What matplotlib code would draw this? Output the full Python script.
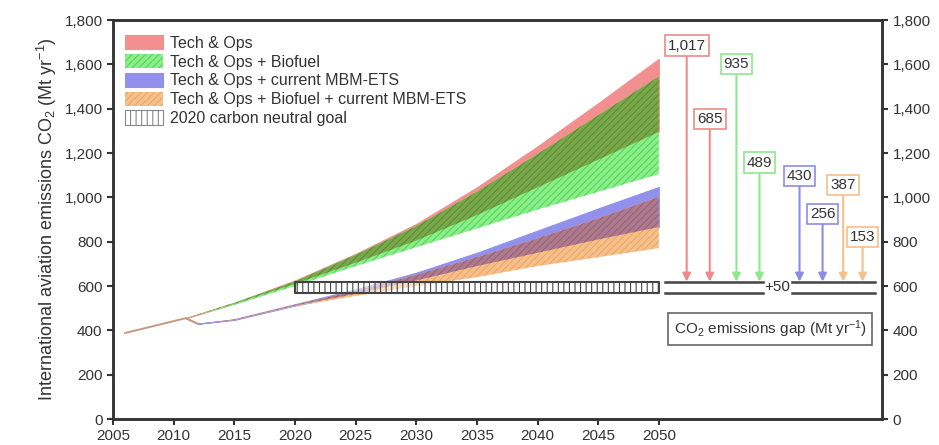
import numpy as np
import matplotlib.pyplot as plt
from matplotlib.patches import Patch

# historical emissions (Mt CO2 / yr)
years_hist = [2006, 2011]
co2_hist = [388, 455]

# scenarios without MBM
years_up = [2011, 2015, 2020, 2025, 2030, 2035, 2040, 2045, 2050]
red_hi = [455, 525, 625, 745, 880, 1045, 1230, 1425, 1625]
red_lo = [455, 520, 610, 705, 805, 920, 1045, 1170, 1295]
green_hi = [455, 523, 620, 740, 870, 1025, 1195, 1370, 1545]
green_lo = [455, 515, 600, 690, 775, 860, 945, 1025, 1105]

# scenarios with current MBM-ETS
years_mbm = [2011, 2012, 2015, 2020, 2025, 2030, 2035, 2040, 2045, 2050]
blue_hi = [455, 430, 450, 518, 585, 660, 750, 850, 950, 1047]
blue_lo = [455, 430, 447, 512, 565, 625, 690, 750, 810, 866]
orange_hi = [455, 430, 449, 515, 578, 650, 730, 815, 905, 1002]
orange_lo = [455, 430, 446, 510, 555, 600, 640, 690, 730, 771]

# 2020 carbon neutral goal
goal_years = [2020, 2050]
goal_lo, goal_hi = 570, 620

# emissions gap labels
gap_values = [1017, 685, 935, 489, 430, 256, 387, 153]
gap_colors = ['#f08a8a', '#f08a8a', '#8ee88e', '#8ee88e',
              '#8c8ce6', '#8c8ce6', '#f5c08a', '#f5c08a']
gap_x = [2052.3, 2054.2, 2056.4, 2058.3, 2061.6, 2063.5, 2065.2, 2066.8]

txt = '#333333'
plt.rcParams['font.family'] = ['Liberation Sans', 'DejaVu Sans']
plt.rcParams['mathtext.fontset'] = 'custom'
plt.rcParams['mathtext.rm'] = 'Liberation Sans'
plt.rcParams['mathtext.it'] = 'Liberation Sans:italic'
plt.rcParams['hatch.linewidth'] = 0.8

fig = plt.figure(figsize=(9.39, 4.45), dpi=100)
ax = fig.add_axes([0.1203, 0.0584, 0.8190, 0.8966])

yu = np.array(years_up)
ym = np.array(years_mbm)

# upper bands
h_red = ax.fill_between(yu, red_lo, red_hi, facecolor='#f29090', edgecolor='#f29090', lw=0.8)
h_green = ax.fill_between(yu, green_lo, green_hi, facecolor='#88f088', edgecolor='#5fcf5f',
                          hatch='/////', lw=0)
ax.fill_between(yu, np.maximum(red_lo, green_lo), np.minimum(red_hi, green_hi),
                facecolor='#78a84a', edgecolor='#5e8c36', hatch='/////', lw=0)

# lower bands
h_blue = ax.fill_between(ym, blue_lo, blue_hi, facecolor='#9191ec', edgecolor='#9191ec', lw=0.8)
h_orange = ax.fill_between(ym, orange_lo, orange_hi, facecolor='#f7c08a', edgecolor='#e8a868',
                           hatch='/////', lw=0)
ax.fill_between(ym, np.maximum(blue_lo, orange_lo), np.minimum(blue_hi, orange_hi),
                facecolor='#b07a8e', edgecolor='#956478', hatch='/////', lw=0)

ax.plot(years_hist, co2_hist, color='#c49a80', lw=1.4)
ax.plot(years_mbm[:2], orange_hi[:2], color='#c49a80', lw=1.4)

# carbon neutral goal
ax.fill_between(goal_years, goal_lo, goal_hi, facecolor=(1, 1, 1, 0.55), edgecolor='#444444',
                hatch='|||', lw=1.5)

# gap arrows
for v, c, x in zip(gap_values, gap_colors, gap_x):
    top = goal_hi + v
    ax.annotate('', xy=(x, goal_hi), xytext=(x, top),
                arrowprops=dict(arrowstyle='-|>', color=c, lw=1.5, mutation_scale=12,
                                shrinkA=0, shrinkB=0))
    ax.text(x, top + 48, f'{v:,}', ha='center', va='center', fontsize=11, color=txt,
            bbox=dict(boxstyle='square,pad=0.2', fc='white', ec=c, lw=1.2))

ax.plot([2050.5, 2058.6], [goal_hi, goal_hi], color='#444444', lw=1.8)
ax.plot([2050.5, 2058.6], [goal_lo, goal_lo], color='#444444', lw=1.8)
ax.plot([2061.0, 2067.8], [goal_hi, goal_hi], color='#444444', lw=1.8)
ax.plot([2061.0, 2067.8], [goal_lo, goal_lo], color='#444444', lw=1.8)
ax.text(2059.8, (goal_lo + goal_hi) / 2, '+50', ha='center', va='center', fontsize=11, color=txt)

ax.text(2059.2, 406, 'CO$_2$ emissions gap (Mt yr$^{-1}$)', ha='center', va='center',
        fontsize=11, color=txt,
        bbox=dict(boxstyle='square,pad=0.35', fc='white', ec='#666666', lw=1.2))

ax.set_xlim(2005, 2068.4)
ax.set_ylim(0, 1800)
ax.set_xticks(range(2005, 2051, 5))
ax.set_yticks(range(0, 1801, 200))
ax.yaxis.set_major_formatter(plt.FuncFormatter(lambda v, p: f'{int(v):,}'))
ax.tick_params(direction='out', length=4, width=1.5, labelsize=11, labelcolor=txt, color='#333333')
for s in ax.spines.values():
    s.set_linewidth(1.8)
    s.set_color('#333333')

ax2 = ax.twinx()
ax2.set_ylim(0, 1800)
ax2.set_yticks(range(0, 1801, 200))
ax2.yaxis.set_major_formatter(plt.FuncFormatter(lambda v, p: f'{int(v):,}'))
ax2.tick_params(direction='out', length=4, width=1.5, labelsize=11, labelcolor=txt, color='#333333')
for s in ax2.spines.values():
    s.set_linewidth(1.8)
    s.set_color('#333333')

ax.set_ylabel('International aviation emissions CO$_2$ (Mt yr$^{-1}$)', fontsize=13, color=txt)

goal_patch = Patch(facecolor='white', edgecolor='#888888', hatch='|||', lw=0.8)
ax.legend([h_red, h_green, h_blue, h_orange, goal_patch],
          ['Tech & Ops', 'Tech & Ops + Biofuel', 'Tech & Ops + current MBM-ETS',
           'Tech & Ops + Biofuel + current MBM-ETS', '2020 carbon neutral goal'],
          loc='upper left', bbox_to_anchor=(-0.003, 0.998), frameon=False, fontsize=11.5,
          handlelength=2.4, handleheight=1.0, labelspacing=0.2, handletextpad=0.4,
          labelcolor=txt)

fig.savefig('out.png', dpi=100)
